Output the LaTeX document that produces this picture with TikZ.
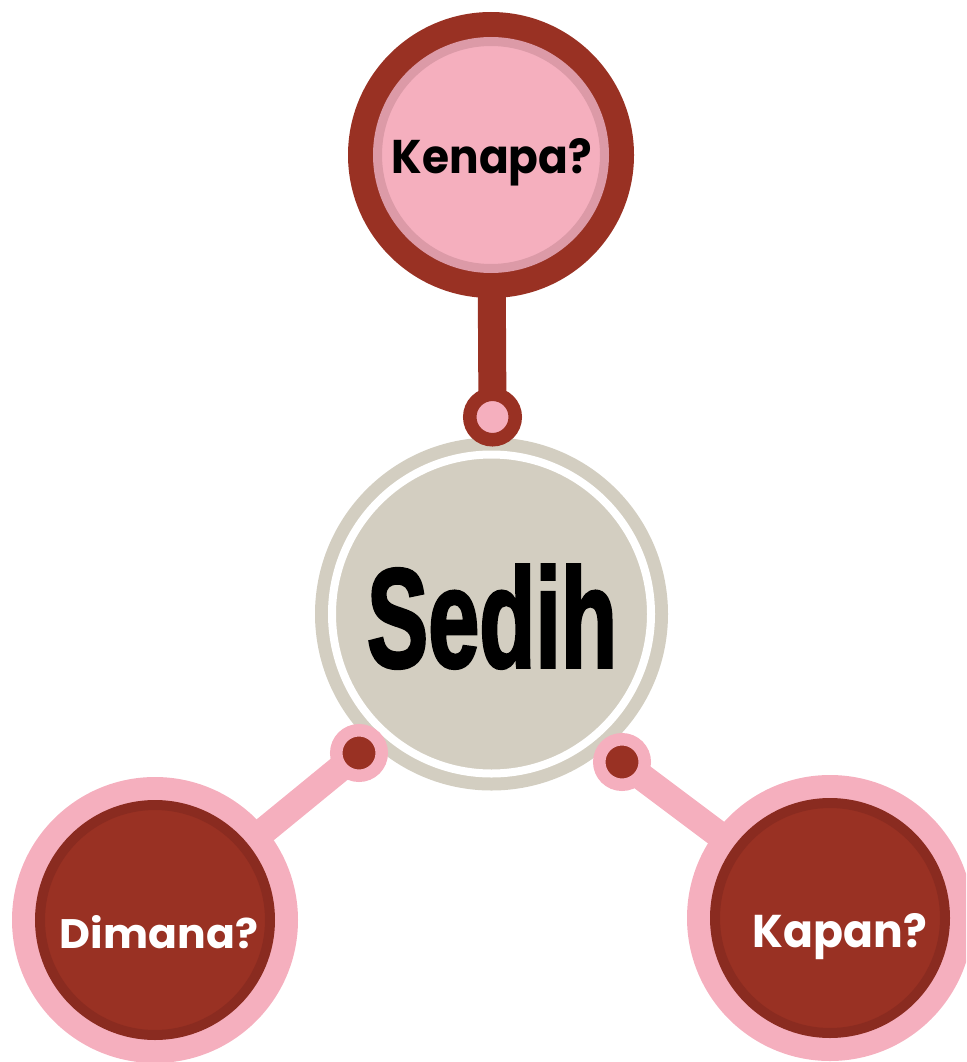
\documentclass[tikz,border=0pt]{standalone}
\usepackage{fontspec}
\newfontfamily\labelfont{Poppins}
\newfontfamily\sedihfont{Liberation Sans}[BoldFeatures={FakeBold=2.5}]
\usetikzlibrary{backgrounds}
\definecolor{darkred}{HTML}{993123}
\definecolor{deepred}{HTML}{8A2B20}
\definecolor{pinkfill}{HTML}{F5AFBE}
\definecolor{pinkring}{HTML}{DC9AA7}
\definecolor{beige}{HTML}{D3CEC1}
\begin{document}
\begin{tikzpicture}[x=1pt,y=-1pt,
  disc/.style={circle, inner sep=0pt, outer sep=0pt},
  lbl/.style={anchor=base, inner sep=0pt, outer sep=0pt},
  stem/.style={line width=28pt},
  knob/.style={disc, minimum size=45.5pt}]
\useasboundingbox (0,0) rectangle (966,1062);
\clip (0,0) rectangle (966,1062);
% centre
\node[disc, fill=beige, draw=beige, double=white, double distance=8pt, line width=13pt, minimum size=319pt] (sedih) at (491.5,614) {};
\node[lbl] (sedihtxt) at (492,667) {\resizebox{250pt}{102pt}{\sedihfont\bfseries Sedih}};
% connector knobs
\node[knob, fill=pinkfill, draw=darkred, line width=13.5pt] (kc) at (492.5,417) {};
\node[knob, fill=darkred, draw=pinkfill, line width=12.5pt] (dc) at (359,753) {};
\node[knob, fill=darkred, draw=pinkfill, line width=12.5pt] (pc) at (622,762) {};
% Kenapa
\node[disc, fill=darkred, minimum size=286pt] (kenapa) at (491,155) {};
\node[disc, fill=pinkfill, draw=pinkring, line width=9pt, minimum size=227pt] (kenapain) at (kenapa.center) {};
\node[lbl] (kenapatxt) at (492,173) {\resizebox{200pt}{35pt}{\labelfont\bfseries Kenapa?}};
% Dimana
\node[disc, fill=pinkfill, minimum size=286pt] (dimana) at (155,920) {};
\node[disc, fill=darkred, draw=deepred, line width=10pt, minimum size=230pt] (dimanain) at (dimana.center) {};
\node[lbl, text=white] (dimanatxt) at (159,948) {\resizebox{198pt}{33pt}{\labelfont\bfseries Dimana?}};
% Kapan
\node[disc, fill=pinkfill, minimum size=286pt] (kapan) at (830,918) {};
\node[disc, fill=darkred, draw=deepred, line width=10pt, minimum size=230pt] (kapanin) at (kapan.center) {};
\node[lbl, text=white] (kapantxt) at (840,947) {\resizebox{174pt}{34pt}{\labelfont\bfseries Kapan?}};
% stems
\begin{pgfonlayer}{background}
\draw[stem, darkred] (kenapa.center) -- (kc.center);
\draw[stem, pinkfill, line width=27pt] (dimana.center) -- (dc.center);
\draw[stem, pinkfill, line width=27pt] (kapan.center) -- (pc.center);
\end{pgfonlayer}
\end{tikzpicture}
\end{document}
